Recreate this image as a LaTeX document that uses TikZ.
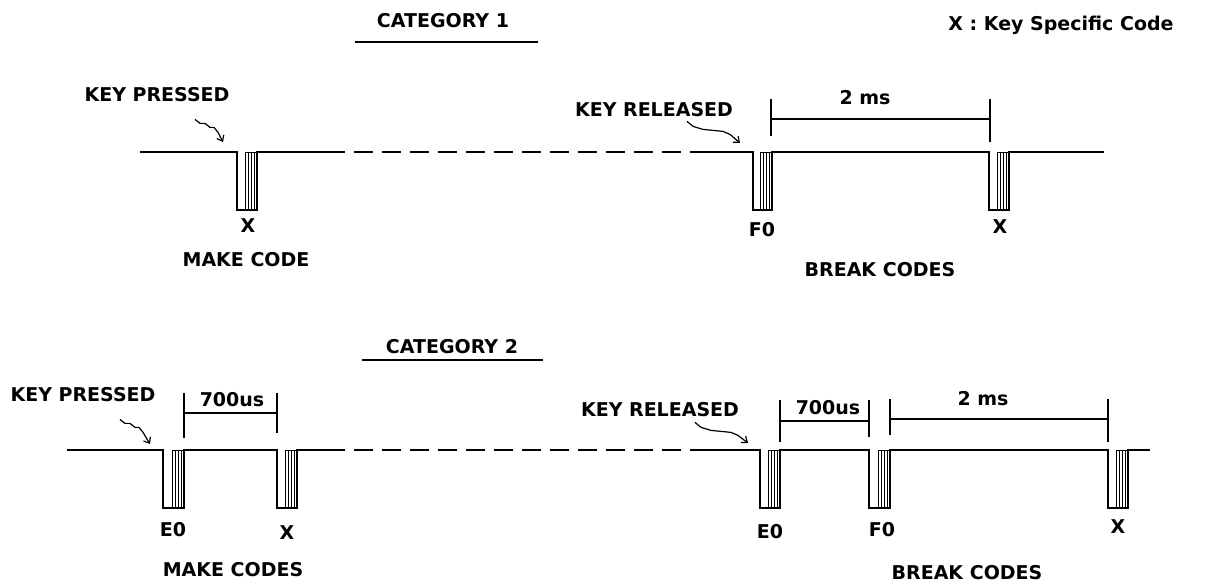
\documentclass[tikz,border=0pt]{standalone}
\usepackage{fontspec}
\setmainfont{DejaVu Sans}
\usetikzlibrary{arrows.meta,positioning}
\newcommand{\codebits}[2]{%
  \draw[bits] (#1,#2) rectangle ++(12,58);
  \foreach \k in {3,6,9} \draw[bits] (#1+\k,#2) -- ++(0,58);
}

\begin{document}
\begin{tikzpicture}[x=1pt, y=-1pt,
    txt/.style={font=\fontsize{19}{22}\selectfont\bfseries, inner sep=0pt},
    wave/.style={line width=1.6pt},
    gapline/.style={line width=1.6pt, dash pattern=on 19pt off 9pt},
    bits/.style={line width=0.9pt},
    dim/.style={line width=1.5pt},
    squig/.style={line width=1.2pt, -{Straight Barb[length=5pt,width=8pt]}}
]
\useasboundingbox (0,0) rectangle (1225,584);

% Titoli
\node[txt] (cat1) at (443,21) {CATEGORY 1};
\draw[dim] (355,42) -- (538,42);
\node[txt] (cat2) at (452,347) {CATEGORY 2};
\draw[dim] (362,360) -- (543,360);
\node[txt] (legend) at (1061,25) {X : Key Specific Code};

% Categoria 1
\draw[wave] (140,152) -- (237,152) -- ++(0,58) -- ++(20,0) -- ++(0,-58) -- (345,152);
\draw[gapline] (354,152) -- (692,152);
\draw[wave] (692,152) -- (753,152) -- ++(0,58) -- ++(19,0) -- ++(0,-58) -- (989,152)
  -- ++(0,58) -- ++(20,0) -- ++(0,-58) -- (1104,152);
\codebits{245}{152}
\codebits{760}{152}
\codebits{997}{152}

\draw[dim] (771,99) -- (771,136);
\draw[dim] (990,99) -- (990,142);
\draw[dim] (771,119) -- (990,119);
\node[txt] (ms1) at (865,98) {2 ms};

\node[txt] (kp1) at (157,95) {KEY PRESSED};
\node[txt] (kr1) at (654,110) {KEY RELEASED};
\coordinate (kp1tip) at (223,142);
\coordinate (kr1tip) at (740,143);
\draw[squig] ([xshift=38pt,yshift=-17pt]kp1.south) -- ++(5,4) -- ++(5,0) -- ++(5,4) -- ++(4,0) -- ++(4,5) -- (kp1tip);
\draw[squig] ([xshift=33pt,yshift=-4pt]kr1.south) -- ++(6,5) -- ++(10,3) -- ++(20,2) -- ++(7,3) -- (kr1tip);

\node[txt] (x1) at (248,226) {X};
\node[txt] (mc1) at (246,260) {MAKE CODE};
\node[txt] (f01) at (762,230) {F0};
\node[txt] (x1b) at (1000,227) {X};
\node[txt] (bc1) at (880,270) {BREAK CODES};

% Categoria 2
\draw[wave] (67,450) -- (163,450) -- ++(0,58) -- ++(21,0) -- ++(0,-58) -- (277,450)
  -- ++(0,58) -- ++(20,0) -- ++(0,-58) -- (345,450);
\draw[gapline] (354,450) -- (698,450);
\draw[wave] (698,450) -- (760,450) -- ++(0,58) -- ++(20,0) -- ++(0,-58) -- (869,450)
  -- ++(0,58) -- ++(21,0) -- ++(0,-58) -- (1108,450)
  -- ++(0,58) -- ++(20,0) -- ++(0,-58) -- (1150,450);
\codebits{172}{450}
\codebits{285}{450}
\codebits{768}{450}
\codebits{878}{450}
\codebits{1116}{450}

\draw[dim] (184,393) -- (184,438);
\draw[dim] (277,393) -- (277,433);
\draw[dim] (184,413) -- (277,413);
\node[txt] (us2a) at (232,400) {700us};

\draw[dim] (780,400) -- (780,442);
\draw[dim] (869,400) -- (869,437);
\draw[dim] (780,421) -- (869,421);
\node[txt] (us2b) at (828,408) {700us};

\draw[dim] (890,399) -- (890,435);
\draw[dim] (1108,399) -- (1108,442);
\draw[dim] (890,419) -- (1108,419);
\node[txt] (ms2) at (983,399) {2 ms};

\node[txt] (kp2) at (83,395) {KEY PRESSED};
\node[txt] (kr2) at (660,410) {KEY RELEASED};
\coordinate (kp2tip) at (150,444);
\coordinate (kr2tip) at (748,443);
\draw[squig] ([xshift=37pt,yshift=-17pt]kp2.south) -- ++(5,4) -- ++(5,0) -- ++(5,4) -- ++(4,0) -- ++(4,5) -- (kp2tip);
\draw[squig] ([xshift=35pt,yshift=-5pt]kr2.south) -- ++(6,5) -- ++(10,3) -- ++(20,2) -- ++(7,3) -- (kr2tip);

\node[txt] (e0a) at (173,530) {E0};
\node[txt] (x2) at (287,533) {X};
\node[txt] (mc2) at (233,570) {MAKE CODES};
\node[txt] (e0b) at (770,532) {E0};
\node[txt] (f02) at (882,530) {F0};
\node[txt] (x2b) at (1118,527) {X};
\node[txt] (bc2) at (967,573) {BREAK CODES};

\end{tikzpicture}
\end{document}
